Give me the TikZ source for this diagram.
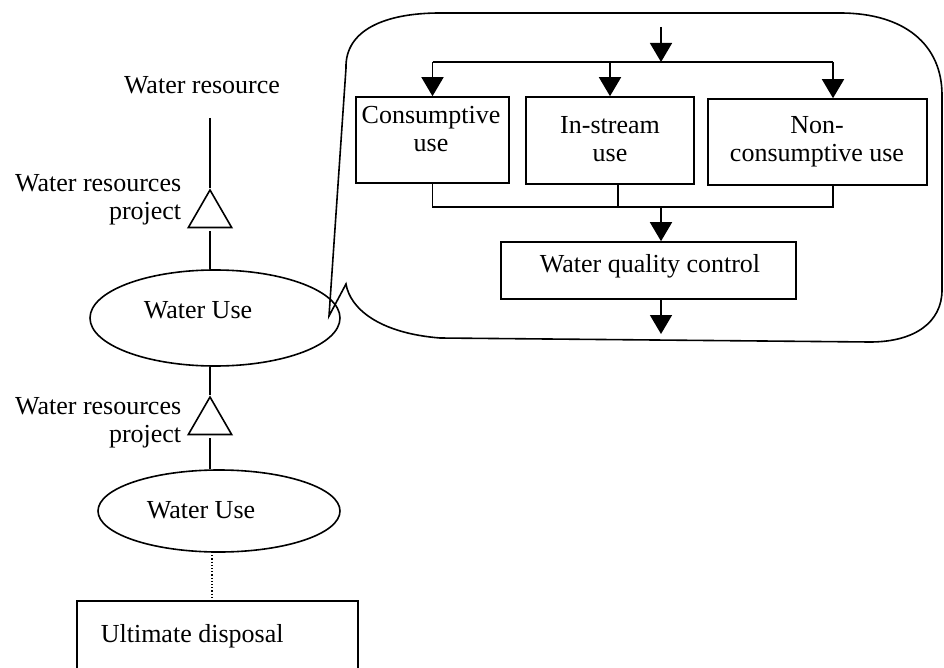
\documentclass[tikz,border=0pt]{standalone}
\usepackage{fontspec}
\setmainfont{Liberation Serif}
\usetikzlibrary{arrows.meta,shapes.geometric}
\begin{document}
\begin{tikzpicture}[x=1pt,y=-1pt,line width=1.6pt,
  every node/.style={font=\fontsize{26}{28}\selectfont,inner sep=0pt},
  arr/.style={-{Triangle[length=19pt,width=22pt]}},
  box/.style={draw,rectangle},
  usebubble/.style={draw,ellipse},
  project/.style={draw,regular polygon,regular polygon sides=3,minimum size=50pt},
  lbl/.style={align=center},
  sidelbl/.style={align=right,anchor=east}]
\useasboundingbox (0,0) rectangle (944,668);
\clip (0,0) rectangle (944,668);

% ---- main chain on the left ----
\node (wres) at (202,85) {Water resource};
\coordinate (src) at (210,118);

\node[project] (prj1) at (210,215) {};
\node[sidelbl] (prj1t) at (182,200) {Water resources\\project};

\node[usebubble,minimum width=250pt,minimum height=96pt] (wu1) at (215,318) {};
\node (wu1t) at (198,310) {Water Use};

\node[project] (prj2) at (210,422) {};
\node[sidelbl] (prj2t) at (182,423) {Water resources\\project};

\node[usebubble,minimum width=242pt,minimum height=82pt] (wu2) at (219,511) {};
\node (wu2t) at (201,510) {Water Use};

\node[box,minimum width=281pt,minimum height=100pt] (disp) at (217.5,651) {};
\node[anchor=west] (dispt) at (100,636) {Ultimate disposal};

\draw (src) -- (prj1.north);
\draw ([yshift=-3pt]prj1.south) -- (prj1.south |- wu1.north);
\draw (prj2.north |- wu1.south) -- (prj2.north);
\draw ([yshift=-3pt]prj2.south) -- (prj2.south |- wu2.north);
\draw[line width=1.2pt,dotted] (212,552) -- (212,601);

% ---- callout with the breakdown of water use ----
\draw (329,316) -- (346,68)
  .. controls (345,30) and (385,13) .. (440,13)
  -- (840,13)
  .. controls (905,13) and (942,45) .. (942,95)
  -- (942,290)
  .. controls (942,322) and (915,342) .. (870,342)
  -- (440,338)
  .. controls (378,333) and (350,308) .. (346,284)
  -- cycle;

\node[box,minimum width=153pt,minimum height=86pt] (cons) at (432.5,140) {};
\node[lbl] (const) at (431,129) {Consumptive\\use};
\node[box,minimum width=168pt,minimum height=87pt] (inst) at (610,140.5) {};
\node[lbl] (instt) at (610,139) {In-stream\\use};
\node[box,minimum width=219pt,minimum height=86pt] (ncons) at (817.5,142) {};
\node[lbl] (nconst) at (817,142) {Non-\\consumptive use};
\node[box,minimum width=295pt,minimum height=57pt] (wqc) at (648.5,270.5) {};
\node (wqct) at (650,266) {Water quality control};

\coordinate (feed) at (661,27);
\coordinate (split) at (661,62);
\coordinate (ncin) at (833,62);
\coordinate (incol) at (618,207);
\coordinate (merge) at (661,207);
\coordinate (ncol) at (833,207);
\coordinate (drain) at (661,334);

\draw[arr] (feed) -- (split);
\draw (cons.north |- split) -- (ncin);
\draw[arr] (cons.north |- split) -- (cons.north);
\draw[arr] (inst.north |- split) -- (inst.north);
\draw[arr] (ncin) -- (ncin |- ncons.north);

\draw (cons.south) -- (cons.south |- merge) -- (ncol) -- (ncol |- ncons.south);
\draw (incol |- inst.south) -- (incol);
\draw[arr] (merge) -- (merge |- wqc.north);
\draw[arr] (merge |- wqc.south) -- (drain);
\end{tikzpicture}
\end{document}
